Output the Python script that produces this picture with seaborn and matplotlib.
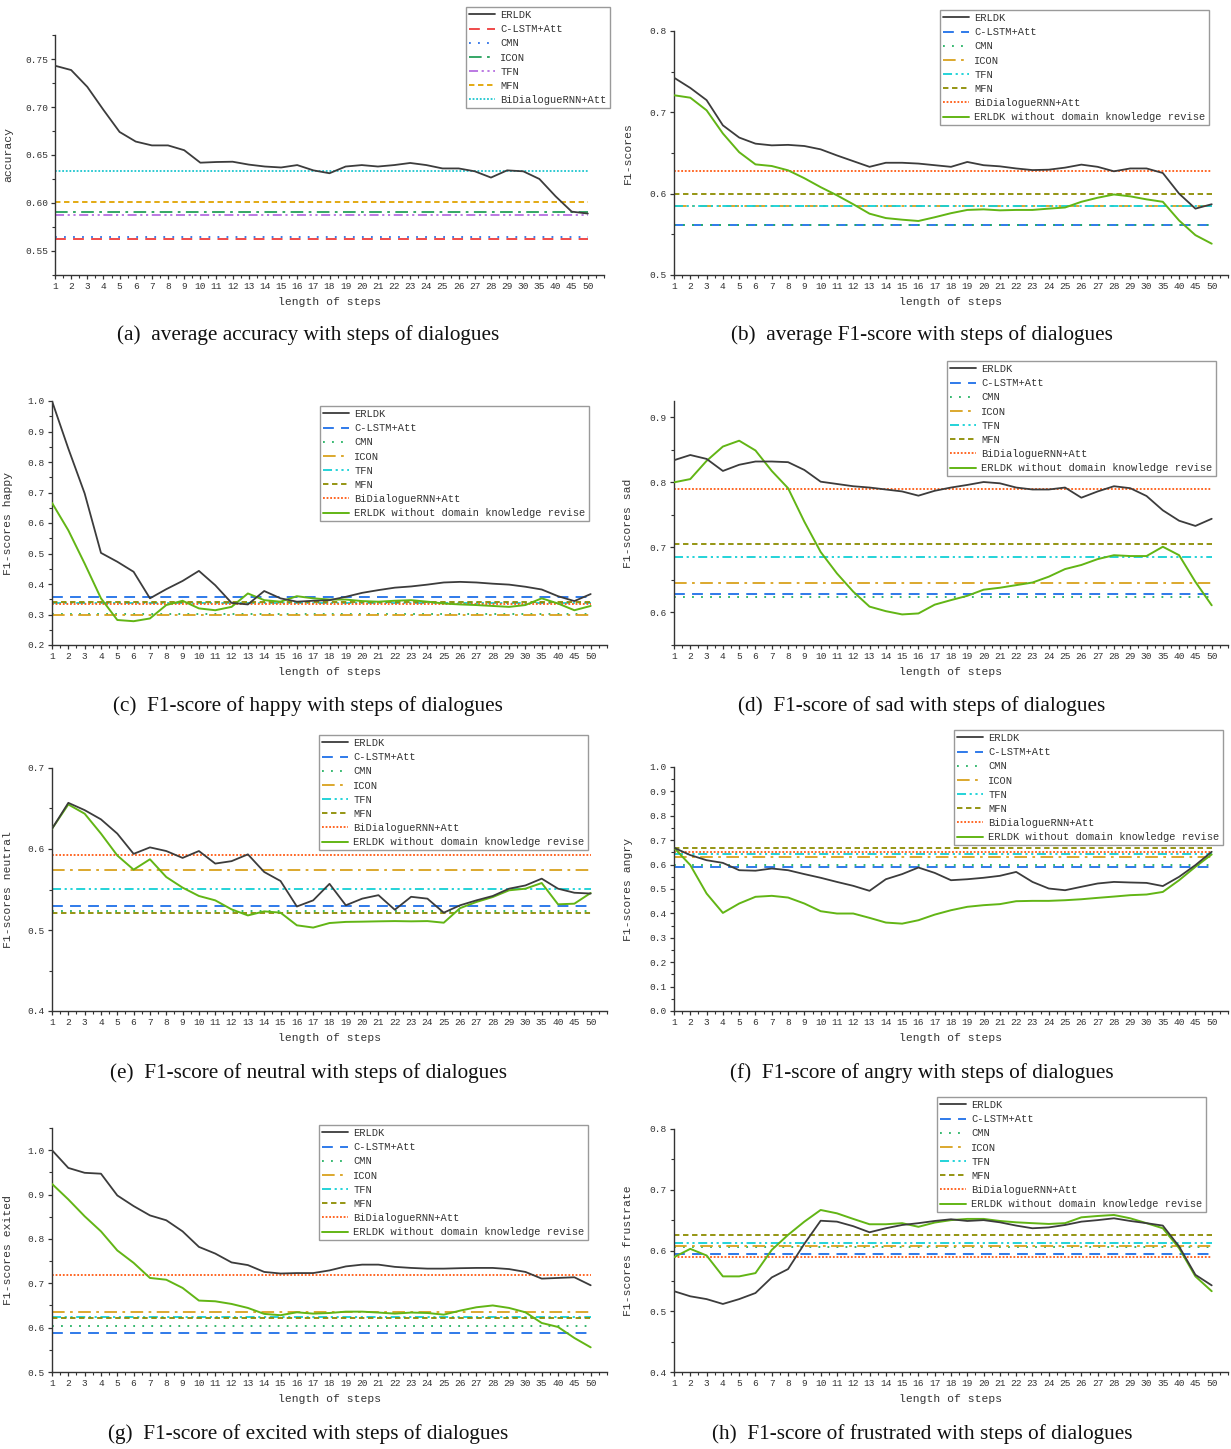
import numpy as np
import pandas as pd
import matplotlib
matplotlib.use('Agg')
import matplotlib.pyplot as plt
import seaborn as sns
from matplotlib.ticker import MultipleLocator

sns.set_style('ticks')
plt.rcParams['font.family'] = ['Liberation Mono', 'DejaVu Sans']

steps = [str(i) for i in range(1, 31)] + ['35', '40', '45', '50']
models = ['C-LSTM+Att', 'CMN', 'ICON', 'TFN', 'MFN', 'BiDialogueRNN+Att']

# (a) average accuracy
erldk_a = [0.743, 0.7385, 0.721, 0.697, 0.674, 0.664, 0.660, 0.660, 0.655, 0.642,
           0.6427, 0.643, 0.640, 0.638, 0.637, 0.6395, 0.634, 0.631, 0.638, 0.6395,
           0.638, 0.6395, 0.6417, 0.6395, 0.636, 0.636, 0.633, 0.6265, 0.634, 0.633,
           0.625, 0.607, 0.591, 0.589]
base_a = [0.563, 0.565, 0.591, 0.588, 0.601, 0.633]

# (b) average F1
erldk_b = [0.7426, 0.730, 0.715, 0.684, 0.669, 0.6615, 0.6594, 0.660, 0.6586, 0.6545,
           0.647, 0.640, 0.633, 0.638, 0.638, 0.637, 0.635, 0.633, 0.639, 0.635,
           0.6336, 0.631, 0.629, 0.6295, 0.632, 0.6357, 0.633, 0.6275, 0.631, 0.631,
           0.6254, 0.600, 0.5816, 0.587]
nodk_b = [0.721, 0.718, 0.7025, 0.674, 0.651, 0.636, 0.634, 0.6287, 0.619, 0.608,
          0.598, 0.587, 0.5754, 0.570, 0.568, 0.5664, 0.571, 0.576, 0.580, 0.5807,
          0.5795, 0.580, 0.580, 0.5816, 0.583, 0.590, 0.595, 0.599, 0.5967, 0.593,
          0.590, 0.567, 0.549, 0.5385]
base_b = [0.562, 0.562, 0.585, 0.585, 0.599, 0.628]

# (c) happy
erldk_c = [1.0, 0.844, 0.697, 0.502, 0.473, 0.44, 0.353, 0.383, 0.41, 0.443,
           0.396, 0.338, 0.333, 0.377, 0.353, 0.342, 0.345, 0.347, 0.358, 0.371,
           0.380, 0.388, 0.392, 0.398, 0.405, 0.407, 0.405, 0.401, 0.398, 0.391,
           0.382, 0.360, 0.344, 0.367]
nodk_c = [0.666, 0.576, 0.467, 0.353, 0.282, 0.278, 0.287, 0.331, 0.345, 0.320,
          0.314, 0.325, 0.369, 0.347, 0.342, 0.360, 0.353, 0.349, 0.349, 0.344,
          0.342, 0.345, 0.347, 0.342, 0.336, 0.333, 0.331, 0.328, 0.325, 0.331,
          0.353, 0.336, 0.314, 0.328]
base_c = [0.357, 0.302, 0.300, 0.337, 0.340, 0.333]

# (d) sad
erldk_d = [0.834, 0.842, 0.836, 0.8175, 0.827, 0.832, 0.832, 0.831, 0.819, 0.801,
           0.7975, 0.794, 0.792, 0.789, 0.786, 0.7795, 0.787, 0.792, 0.796, 0.8005,
           0.7985, 0.792, 0.789, 0.789, 0.792, 0.7764, 0.786, 0.794, 0.791, 0.779,
           0.757, 0.741, 0.733, 0.744]
nodk_d = [0.800, 0.805, 0.833, 0.855, 0.864, 0.849, 0.8175, 0.791, 0.7395, 0.693,
          0.660, 0.632, 0.609, 0.602, 0.597, 0.5985, 0.612, 0.619, 0.6256, 0.635,
          0.638, 0.642, 0.646, 0.655, 0.6667, 0.673, 0.682, 0.688, 0.6867, 0.6867,
          0.701, 0.688, 0.647, 0.611]
base_d = [0.629, 0.624, 0.646, 0.686, 0.705, 0.789]

# (e) neutral
erldk_e = [0.625, 0.657, 0.648, 0.6366, 0.619, 0.594, 0.602, 0.5975, 0.589, 0.5975,
           0.582, 0.585, 0.5934, 0.5716, 0.5605, 0.529, 0.5366, 0.557, 0.5305, 0.5387,
           0.543, 0.525, 0.541, 0.5387, 0.5214, 0.5305, 0.5366, 0.542, 0.551, 0.555,
           0.5634, 0.551, 0.546, 0.545]
nodk_e = [0.625, 0.655, 0.6436, 0.619, 0.592, 0.5745, 0.5873, 0.5654, 0.5523, 0.542,
          0.5366, 0.5255, 0.518, 0.523, 0.5214, 0.5058, 0.503, 0.5086, 0.510, 0.5103,
          0.5107, 0.511, 0.5107, 0.511, 0.509, 0.527, 0.5346, 0.5407, 0.549, 0.551,
          0.558, 0.5317, 0.5325, 0.5457]
base_e = [0.530, 0.524, 0.574, 0.551, 0.521, 0.592]

# (f) angry
erldk_f = [0.669, 0.639, 0.618, 0.607, 0.577, 0.575, 0.584, 0.577, 0.561, 0.546,
           0.529, 0.513, 0.4925, 0.540, 0.561, 0.588, 0.566, 0.536, 0.540, 0.546,
           0.554, 0.570, 0.529, 0.502, 0.495, 0.509, 0.5226, 0.529, 0.5267, 0.525,
           0.512, 0.550, 0.598, 0.6525]
nodk_f = [0.669, 0.598, 0.4815, 0.402, 0.4405, 0.468, 0.472, 0.465, 0.4405, 0.409,
          0.3995, 0.3995, 0.3817, 0.3625, 0.358, 0.372, 0.395, 0.413, 0.427, 0.4337,
          0.438, 0.450, 0.4514, 0.4514, 0.454, 0.458, 0.4637, 0.469, 0.4747, 0.4774,
          0.488, 0.536, 0.591, 0.6416]
base_f = [0.591, 0.597, 0.630, 0.643, 0.668, 0.652]

# (g) excited
erldk_g = [1.0, 0.960, 0.949, 0.947, 0.898, 0.874, 0.853, 0.842, 0.817, 0.782,
           0.767, 0.747, 0.741, 0.7256, 0.722, 0.723, 0.723, 0.729, 0.738, 0.742,
           0.742, 0.737, 0.7346, 0.733, 0.733, 0.734, 0.7346, 0.7346, 0.732, 0.7256,
           0.7105, 0.712, 0.7135, 0.6955]
nodk_g = [0.924, 0.889, 0.851, 0.817, 0.774, 0.746, 0.712, 0.708, 0.6895, 0.661,
          0.6594, 0.6534, 0.6444, 0.631, 0.628, 0.6346, 0.6316, 0.633, 0.636, 0.636,
          0.634, 0.6316, 0.634, 0.633, 0.6293, 0.6383, 0.6459, 0.650, 0.6444, 0.6346,
          0.6105, 0.6015, 0.5767, 0.5556]
base_g = [0.589, 0.603, 0.635, 0.625, 0.621, 0.719]

# (h) frustrated
erldk_h = [0.533, 0.5246, 0.520, 0.512, 0.520, 0.530, 0.5557, 0.5694, 0.611, 0.649,
           0.6475, 0.640, 0.630, 0.6366, 0.642, 0.645, 0.6486, 0.6514, 0.6486, 0.650,
           0.6464, 0.641, 0.6366, 0.638, 0.642, 0.6475, 0.650, 0.653, 0.6486, 0.645,
           0.641, 0.6066, 0.560, 0.5426]
nodk_h = [0.589, 0.6027, 0.5918, 0.5574, 0.5574, 0.5628, 0.601, 0.6257, 0.6475, 0.6667,
          0.6612, 0.652, 0.6432, 0.6432, 0.645, 0.639, 0.646, 0.650, 0.652, 0.652,
          0.6486, 0.6464, 0.645, 0.6437, 0.645, 0.6546, 0.6568, 0.6585, 0.653, 0.645,
          0.6366, 0.6038, 0.5574, 0.533]
base_h = [0.594, 0.606, 0.608, 0.612, 0.625, 0.589]

W, H = 1231, 1449
fig = plt.figure(figsize=(W / 100, H / 100), dpi=100)

styles = [(0, (6, 4)), (0, (1, 4)), (0, (7, 3, 1.5, 3)), (0, (5, 2, 1.2, 2, 1.2, 2)),
          (0, (3, 2)), (0, (1, 1))]
pal_a = ['#ee3b3b', '#2a6fe6', '#25a05a', '#b56ee0', '#e0a400', '#1cc6cf']
pal_o = ['#1f6fe8', '#22b262', '#d9a11c', '#12d0d6', '#8c8c00', '#ff5a12']
c_erldk = '#3c3c3c'
c_nodk = '#62b515'

panels = [
    ('a', erldk_a, base_a, None, pal_a, (0.525, 0.775), 0.05, (55, 35, 604, 275), 'accuracy', (466, 7),
     '(a)  average accuracy with steps of dialogues', 335, 0),
    ('b', erldk_b, base_b, nodk_b, pal_o, (0.5, 0.8), 0.1, (674, 31, 1228, 275), 'F1-scores', (940, 10),
     '(b)  average F1-score with steps of dialogues', 335, 1),
    ('c', erldk_c, base_c, nodk_c, pal_o, (0.2, 1.0), 0.1, (52, 401, 607, 645), 'F1-scores happy', (320, 406),
     '(c)  F1-score of happy with steps of dialogues', 706, 0),
    ('d', erldk_d, base_d, nodk_d, pal_o, (0.55, 0.925), 0.1, (674, 401, 1228, 645), 'F1-scores sad', (947, 361),
     '(d)  F1-score of sad with steps of dialogues', 706, 1),
    ('e', erldk_e, base_e, nodk_e, pal_o, (0.4, 0.7), 0.1, (52, 768, 607, 1011), 'F1-scores neutral', (319, 735),
     '(e)  F1-score of neutral with steps of dialogues', 1073, 0),
    ('f', erldk_f, base_f, nodk_f, pal_o, (0.0, 1.0), 0.1, (674, 767, 1228, 1011), 'F1-scores angry', (954, 730),
     '(f)  F1-score of angry with steps of dialogues', 1073, 1),
    ('g', erldk_g, base_g, nodk_g, pal_o, (0.5, 1.05), 0.1, (52, 1128, 607, 1372), 'F1-scores exited', (319, 1125),
     '(g)  F1-score of excited with steps of dialogues', 1434, 0),
    ('h', erldk_h, base_h, nodk_h, pal_o, (0.4, 0.8), 0.1, (674, 1129, 1228, 1372), 'F1-scores frustrate', (937, 1097),
     '(h)  F1-score of frustrated with steps of dialogues', 1434, 1),
]

x = np.arange(len(steps))
for key, erldk, base, nodk, pal, ylim, major, (l, t, r, b), ylab, (lx, ly), title, ty, col in panels:
    ax = fig.add_axes([l / W, 1 - b / H, (r - l) / W, (b - t) / H])
    df = pd.DataFrame({'step': x, 'v': erldk})
    sns.lineplot(data=df, x='step', y='v', ax=ax, color=c_erldk, lw=1.3, label='ERLDK',
                 legend=False, zorder=4)
    for name, val, c, ls in zip(models, base, pal, styles):
        sns.lineplot(x=[x[0], x[-1]], y=[val, val], ax=ax, color=c, linestyle=ls, lw=1.3,
                     label=name, legend=False, zorder=2)
    if nodk is not None:
        sns.lineplot(x=x, y=nodk, ax=ax, color=c_nodk, lw=1.4,
                     label='ERLDK without domain knowledge revise', legend=False, zorder=3)
    ax.set_xlim(0, len(steps))
    ax.set_ylim(*ylim)
    ax.set_xticks(x)
    ax.set_xticklabels(steps)
    ax.xaxis.set_minor_locator(MultipleLocator(0.5))
    ax.yaxis.set_major_locator(MultipleLocator(major))
    ax.yaxis.set_minor_locator(MultipleLocator(major / 2))
    if major == 0.05:
        ax.yaxis.set_major_formatter(matplotlib.ticker.FormatStrFormatter('%.2f'))
    else:
        ax.yaxis.set_major_formatter(matplotlib.ticker.FormatStrFormatter('%.1f'))
    ax.tick_params(axis='both', which='major', direction='out', length=3, width=0.9,
                   labelsize=6.8, colors='#333333', pad=2)
    ax.tick_params(axis='both', which='minor', direction='out', length=2, width=0.8,
                   colors='#333333')
    for s in ['top', 'right']:
        ax.spines[s].set_visible(False)
    for s in ['left', 'bottom']:
        ax.spines[s].set_linewidth(1.0)
        ax.spines[s].set_color('#333333')
    ax.set_xlabel('length of steps', fontsize=8.2, color='#333333')
    ax.set_ylabel(ylab, fontsize=8.2, color='#333333')
    hpx = b - t
    wpx = r - l
    ylabel_x = 13 if col == 0 else 633
    ax.yaxis.set_label_coords((ylabel_x - l) / wpx, 0.5)
    ax.xaxis.set_label_coords(0.5, -22 / hpx)
    handles, labels = ax.get_legend_handles_labels()
    leg = ax.legend(handles, labels, loc='upper left',
                    bbox_to_anchor=(lx / W, 1 - ly / H), bbox_transform=fig.transFigure,
                    borderaxespad=0, fontsize=7.5, handlelength=2.5, handletextpad=0.5,
                    labelspacing=0.4, borderpad=0.3, frameon=True, fancybox=False,
                    framealpha=1)
    leg.get_frame().set_edgecolor('#9a9a9a')
    leg.get_frame().set_linewidth(1.0)
    for txt in leg.get_texts():
        txt.set_color('#333333')
    fig.text((308 if col == 0 else 922) / W, 1 - ty / H, title, ha='center', va='center',
             fontsize=15.3, family='Liberation Serif', color='#111111')

fig.savefig('out.png', dpi=100)
